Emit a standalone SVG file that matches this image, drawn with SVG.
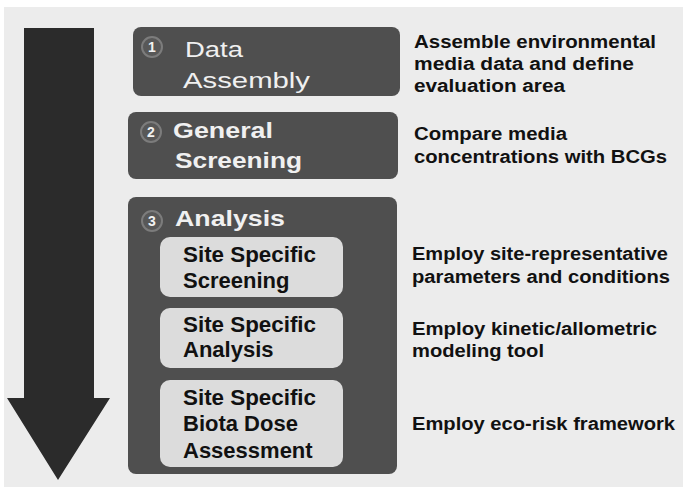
<svg xmlns="http://www.w3.org/2000/svg" width="683" height="487" viewBox="0 0 683 487">
<style>
.stage{fill:#4f4f4f}
.inner{fill:#dcdcdc}
.num{fill:#585858;stroke:#7c7c7c;stroke-width:2}
.numt{font-family:"Liberation Sans",Arial,sans-serif;font-weight:bold;font-size:14px;fill:#f2f2f2;text-anchor:middle}
.title{font-family:"Liberation Sans",Arial,sans-serif;font-size:22px;fill:#f0f0f0}
.ttl-b{font-weight:bold}
.sub{font-family:"Liberation Sans",Arial,sans-serif;font-weight:bold;font-size:22px;fill:#111}
.desc{font-family:"Liberation Sans",Arial,sans-serif;font-weight:bold;font-size:18px;fill:#111}
</style>
<rect x="0" y="0" width="683" height="487" fill="#ffffff"/>
<rect x="4" y="7" width="679" height="480" fill="#ececec"/>
<g id="arrow">
<polygon points="24,28 94,28 94,398 110,398 58,480 7,398 24,398" fill="#2b2b2b"/>
</g>
<g id="connectors"></g>
<g id="stage1">
<rect class="stage" x="133" y="27" width="267" height="69" rx="8"/>
<circle class="num" cx="152" cy="47" r="10"/>
<text class="numt" x="152" y="52">1</text>
<text class="title" x="185" y="57" textLength="58" lengthAdjust="spacingAndGlyphs">Data</text>
<text class="title" x="183" y="88" textLength="127" lengthAdjust="spacingAndGlyphs">Assembly</text>
</g>
<g id="stage2">
<rect class="stage" x="128" y="112" width="270" height="67" rx="8"/>
<circle class="num" cx="151" cy="132" r="10"/>
<text class="numt" x="151" y="137">2</text>
<text class="title ttl-b" x="173" y="138" textLength="100" lengthAdjust="spacingAndGlyphs">General</text>
<text class="title ttl-b" x="175" y="168" textLength="127" lengthAdjust="spacingAndGlyphs">Screening</text>
</g>
<g id="stage3">
<rect class="stage" x="128" y="197" width="269" height="277" rx="8"/>
<circle class="num" cx="152" cy="221" r="10"/>
<text class="numt" x="152" y="226">3</text>
<text class="title ttl-b" x="175" y="226" textLength="110" lengthAdjust="spacingAndGlyphs">Analysis</text>
</g>
<g id="sss">
<rect class="inner" x="160" y="237" width="183" height="60" rx="10"/>
<text class="sub" x="183" y="262" textLength="133" lengthAdjust="spacingAndGlyphs">Site Specific</text>
<text class="sub" x="183" y="288">Screening</text>
</g>
<g id="ssa">
<rect class="inner" x="160" y="308" width="183" height="60" rx="10"/>
<text class="sub" x="183" y="332" textLength="133" lengthAdjust="spacingAndGlyphs">Site Specific</text>
<text class="sub" x="183" y="357">Analysis</text>
</g>
<g id="ssbda">
<rect class="inner" x="160" y="380" width="183" height="87" rx="10"/>
<text class="sub" x="183" y="405" textLength="133" lengthAdjust="spacingAndGlyphs">Site Specific</text>
<text class="sub" x="183" y="431">Biota Dose</text>
<text class="sub" x="183" y="458">Assessment</text>
</g>
<g id="descriptions">
<text class="desc" x="414" y="48" textLength="242" lengthAdjust="spacingAndGlyphs">Assemble environmental</text>
<text class="desc" x="414" y="70" textLength="220" lengthAdjust="spacingAndGlyphs">media data and define</text>
<text class="desc" x="414" y="92" textLength="151" lengthAdjust="spacingAndGlyphs">evaluation area</text>
<text class="desc" x="414" y="140" textLength="153" lengthAdjust="spacingAndGlyphs">Compare media</text>
<text class="desc" x="414" y="163" textLength="253" lengthAdjust="spacingAndGlyphs">concentrations with BCGs</text>
<text class="desc" x="412" y="260" textLength="256" lengthAdjust="spacingAndGlyphs">Employ site-representative</text>
<text class="desc" x="412" y="283" textLength="258" lengthAdjust="spacingAndGlyphs">parameters and conditions</text>
<text class="desc" x="412" y="335" textLength="245" lengthAdjust="spacingAndGlyphs">Employ kinetic/allometric</text>
<text class="desc" x="412" y="357" textLength="132" lengthAdjust="spacingAndGlyphs">modeling tool</text>
<text class="desc" x="412" y="430" textLength="263" lengthAdjust="spacingAndGlyphs">Employ eco-risk framework</text>
</g>
</svg>
